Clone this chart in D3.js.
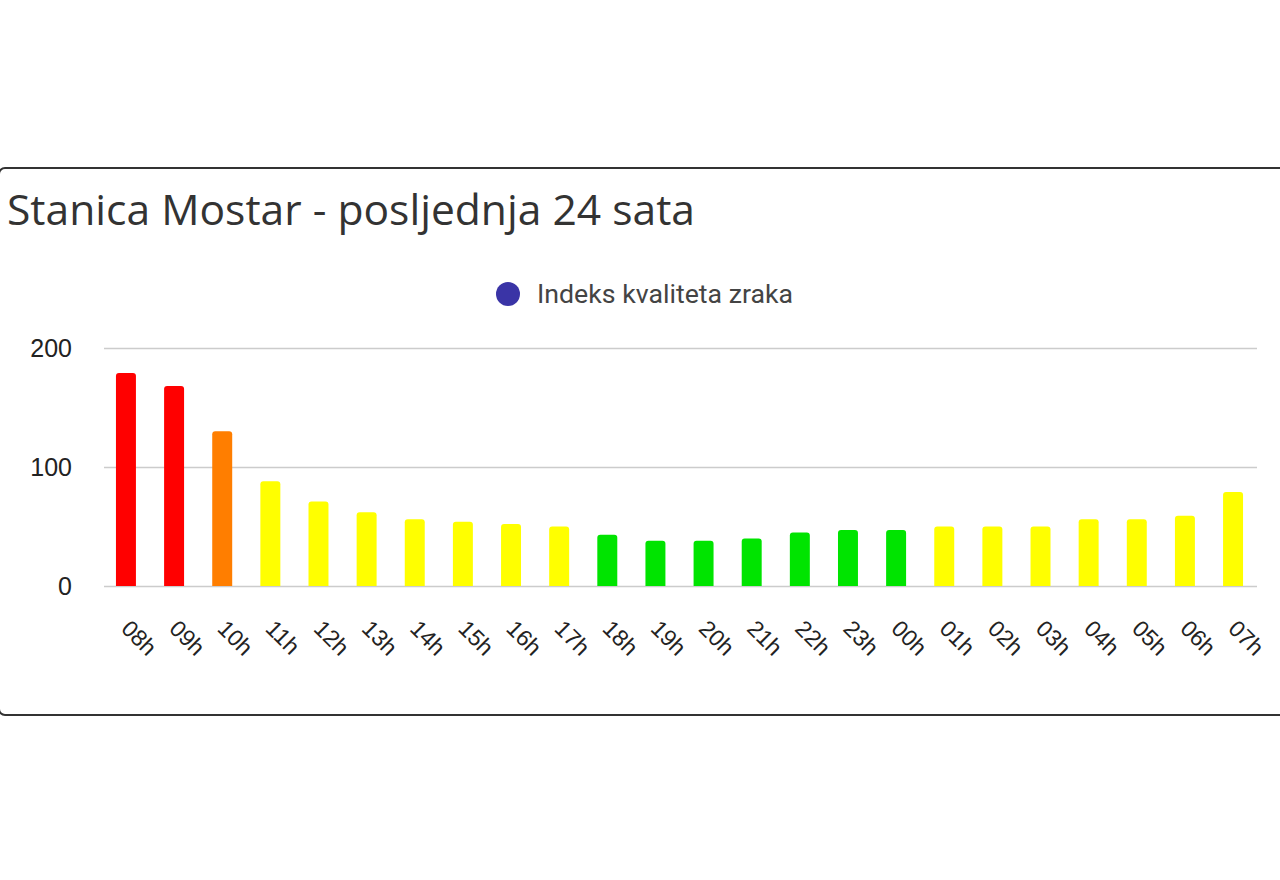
<!DOCTYPE html>
<html>
<head>
<meta charset="utf-8">
<script src="https://cdn.jsdelivr.net/npm/d3@7"></script>
<style>
  html, body { margin: 0; padding: 0; background: #fff; }
  svg { display: block; }
</style>
</head>
<body>
<svg id="chart" width="1280" height="880"></svg>
<script>
const title = "Stanica Mostar - posljednja 24 sata";
const seriesName = "Indeks kvaliteta zraka";
const hours = ["08h","09h","10h","11h","12h","13h","14h","15h","16h","17h","18h","19h","20h","21h","22h","23h","00h","01h","02h","03h","04h","05h","06h","07h"];
const aqi = [179,168,130,88,71,62,56,54,52,50,43,38,38,40,45,47,47,50,50,50,56,56,59,79];
const yTicks = [0,100,200];
const barColors = ["#ff0000","#ff0000","#ff7e00","#ffff00","#ffff00","#ffff00","#ffff00","#ffff00","#ffff00","#ffff00","#00e400","#00e400","#00e400","#00e400","#00e400","#00e400","#00e400","#ffff00","#ffff00","#ffff00","#ffff00","#ffff00","#ffff00","#ffff00"];

const svg = d3.select("#chart");

// card frame
svg.append("rect")
  .attr("x", -1).attr("y", 168).attr("width", 1290).attr("height", 547)
  .attr("rx", 6).attr("fill", "#fff").attr("stroke", "#333").attr("stroke-width", 2);

svg.append("text")
  .attr("x", 7).attr("y", 225)
  .attr("font-family", "'Open Sans', sans-serif").attr("font-size", 42)
  .attr("textLength", 688).attr("lengthAdjust", "spacingAndGlyphs")
  .attr("fill", "#333").text(title);

// legend
svg.append("circle").attr("cx", 508).attr("cy", 294).attr("r", 12).attr("fill", "#3a34a6");
svg.append("text").attr("x", 537).attr("y", 303)
  .attr("font-family", "Roboto, sans-serif").attr("font-size", 26)
  .attr("textLength", 256).attr("lengthAdjust", "spacingAndGlyphs")
  .attr("fill", "#444").text(seriesName);

const x = d3.scaleBand().domain(hours).range([102, 1257]).paddingInner(0.585).paddingOuter(0.29);
const y = d3.scaleLinear().domain([0, 200]).range([586, 348]);

// gridlines
const grid = svg.append("g");
grid.selectAll("line").data(yTicks).join("line")
  .attr("x1", 104).attr("x2", 1257)
  .attr("y1", d => Math.round(y(d)) + 0.5).attr("y2", d => Math.round(y(d)) + 0.5)
  .attr("stroke", "#cccccc").attr("stroke-width", 1.5);

// y axis labels via d3 axis
const yAxis = d3.axisLeft(y).tickValues(yTicks).tickSize(0).tickPadding(0).tickFormat(d3.format("d"));
const yg = svg.append("g").attr("transform", "translate(72,0)").call(yAxis);
yg.select(".domain").remove();
yg.selectAll("text").attr("font-family", "Arial, 'Liberation Sans', sans-serif")
  .attr("font-size", 25).attr("fill", "#222").attr("dy", "0.35em");

// bars with rounded tops
const r = 3;
function barPath(d, i) {
  const x0 = x(hours[i]), w = x.bandwidth(), y0 = y(0), y1 = y(d);
  return `M${x0},${y0} V${y1 + r} Q${x0},${y1} ${x0 + r},${y1} H${x0 + w - r} Q${x0 + w},${y1} ${x0 + w},${y1 + r} V${y0} Z`;
}
svg.append("g").selectAll("path").data(aqi).join("path")
  .attr("d", (d, i) => barPath(d, i))
  .attr("fill", (d, i) => barColors[i]);

// x axis labels
const xAxis = d3.axisBottom(x).tickSize(0).tickPadding(0);
const xg = svg.append("g").attr("transform", "translate(0,586)").call(xAxis);
xg.select(".domain").remove();
xg.selectAll(".tick text")
  .attr("font-family", "Arial, 'Liberation Sans', sans-serif")
  .attr("font-size", 23).attr("fill", "#222")
  .attr("text-anchor", "start")
  .attr("dy", null).attr("y", 0)
  .attr("transform", "translate(-6,44) rotate(45)");
</script>
</body>
</html>
